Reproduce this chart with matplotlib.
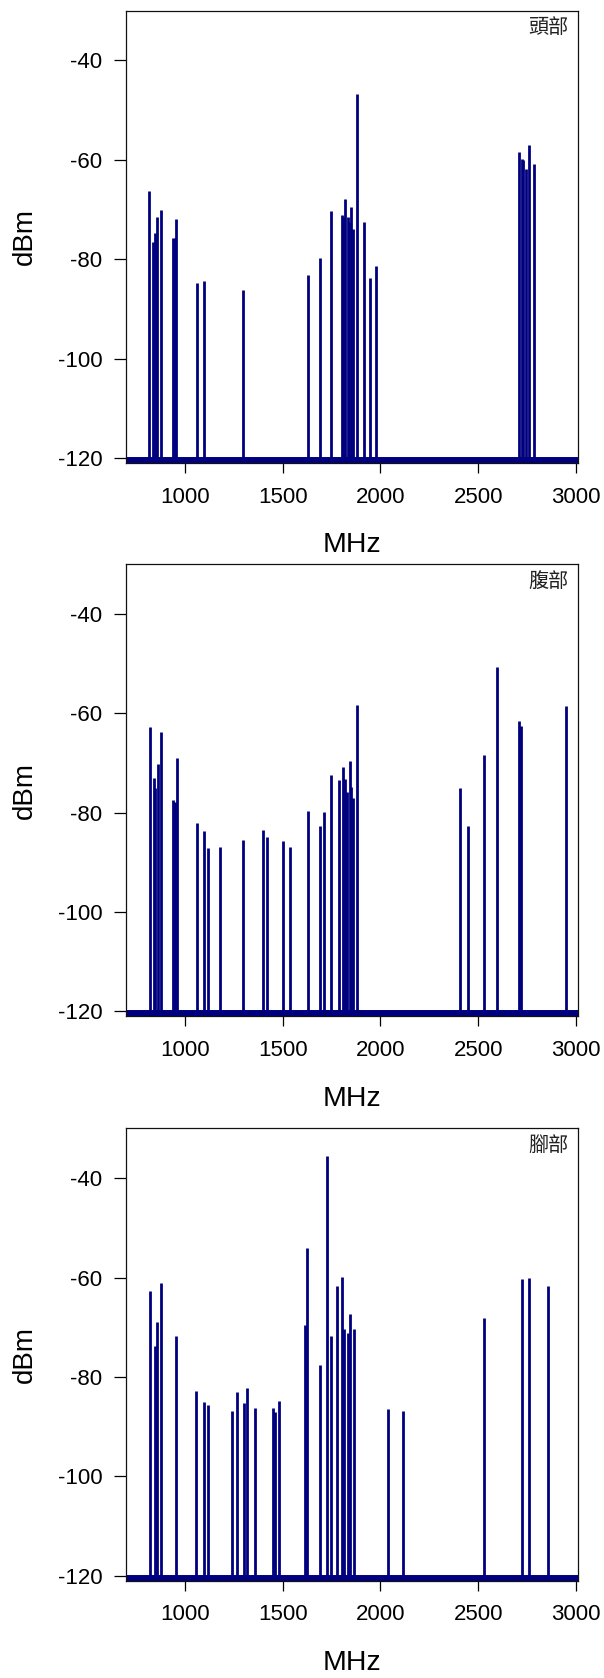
import matplotlib
matplotlib.use("Agg")
import matplotlib.pyplot as plt

# Measured spectrum peaks (MHz, dBm) at three body positions
head_freq = [817, 838, 846, 858, 876, 937, 947, 955, 1063, 1099, 1298,
             1628, 1688, 1749, 1804, 1810, 1821, 1833, 1840, 1850, 1860, 1880,
             1918, 1948, 1978, 2708, 2725, 2730, 2746, 2759, 2788]
head_dbm = [-66.3, -76.6, -74.7, -71.5, -70.0, -75.7, -75.7, -72.0, -84.7, -84.3, -86.2,
            -83.1, -79.8, -70.2, -71.1, -71.5, -67.8, -71.5, -72.5, -69.5, -73.9, -46.8,
            -72.6, -83.7, -81.3, -58.4, -59.9, -60.1, -61.8, -57.1, -60.9]

belly_freq = [819, 839, 848, 860, 879, 940, 947, 957, 1059, 1099, 1119, 1177,
              1298, 1397, 1418, 1500, 1538, 1628, 1688, 1710, 1749, 1786, 1807,
              1819, 1831, 1843, 1848, 1862, 1882, 2406, 2447, 2529, 2596, 2708,
              2717, 2951]
belly_dbm = [-62.8, -73.0, -75.1, -70.3, -63.8, -77.5, -77.8, -69.1, -82.1, -83.7, -87.1, -86.9,
             -85.5, -83.4, -85.0, -85.8, -86.9, -79.6, -82.6, -79.9, -72.4, -73.4, -70.9,
             -73.3, -75.8, -69.6, -74.8, -77.0, -58.4, -75.1, -82.6, -68.5, -50.6, -61.6,
             -62.6, -58.6]

foot_freq = [821, 845, 857, 879, 955, 1058, 1097, 1119, 1240, 1268, 1300, 1319,
             1358, 1449, 1461, 1481, 1614, 1624, 1690, 1725, 1749, 1775, 1805,
             1814, 1836, 1846, 1865, 2038, 2113, 2530, 2726, 2762, 2860]
foot_dbm = [-62.7, -73.8, -69.0, -61.0, -71.8, -82.8, -85.1, -85.7, -86.9, -83.1, -85.2, -82.2,
            -86.3, -86.2, -87.0, -84.9, -69.6, -54.0, -77.7, -35.6, -71.8, -61.7, -59.9,
            -70.3, -71.2, -67.3, -70.4, -86.5, -86.9, -68.1, -60.2, -60.1, -61.7]

panel_titles = ["頭部", "腹部", "腳部"]
noise_floor = -120
noise_floor_low = -121
x_ticks = [1000, 1500, 2000, 2500, 3000]
y_ticks = [-40, -60, -80, -100, -120]
x_range = (700, 3010)
y_range = (-121, -30)

LINE = "#00007f"
TICK_FONT = ["Liberation Sans", "DejaVu Sans"]
CJK_FONT = ["Noto Sans CJK TC", "DejaVu Sans"]

fig = plt.figure(figsize=(6.04, 16.78), dpi=100)

panels = [(head_freq, head_dbm), (belly_freq, belly_dbm), (foot_freq, foot_dbm)]
bottoms = [0.7241, 0.3943, 0.0580]

for (freq, dbm), title, bottom in zip(panels, panel_titles, bottoms):
    ax = fig.add_axes([0.2094, bottom, 0.7472, 0.2695])
    ax.set_xlim(*x_range)
    ax.set_ylim(*y_range)

    # noise floor trace across the sweep
    ax.axhspan(noise_floor_low, noise_floor, color=LINE, lw=1.4, zorder=2)
    # individual carriers
    ax.vlines(freq, noise_floor, dbm, color=LINE, lw=2.0, zorder=3)

    ax.set_xticks(x_ticks)
    ax.set_yticks(y_ticks)
    ax.set_xticklabels([str(t) for t in x_ticks], fontfamily=TICK_FONT, fontsize=16)
    ax.set_yticklabels([str(t) for t in y_ticks], fontfamily=TICK_FONT, fontsize=16)
    ax.tick_params(axis="x", length=7.5, width=0.9, pad=9.5, color="black")
    ax.tick_params(axis="y", length=8.5, width=0.9, pad=9.0, color="black")

    for sp in ax.spines.values():
        sp.set_linewidth(0.9)
        sp.set_color("#111111")
        sp.set_zorder(4)

    ax.set_xlabel("MHz", fontfamily=TICK_FONT, fontsize=20.5)
    ax.set_ylabel("dBm", fontfamily=TICK_FONT, fontsize=20)
    ax.xaxis.set_label_coords(0.5, -0.153)
    ax.yaxis.set_label_coords(-0.196, 0.5)

    ax.text(0.979, 0.962, title, transform=ax.transAxes, ha="right", va="center",
            fontfamily=CJK_FONT, fontsize=14.5, color="#222222")

fig.savefig("out.png", dpi=100)
